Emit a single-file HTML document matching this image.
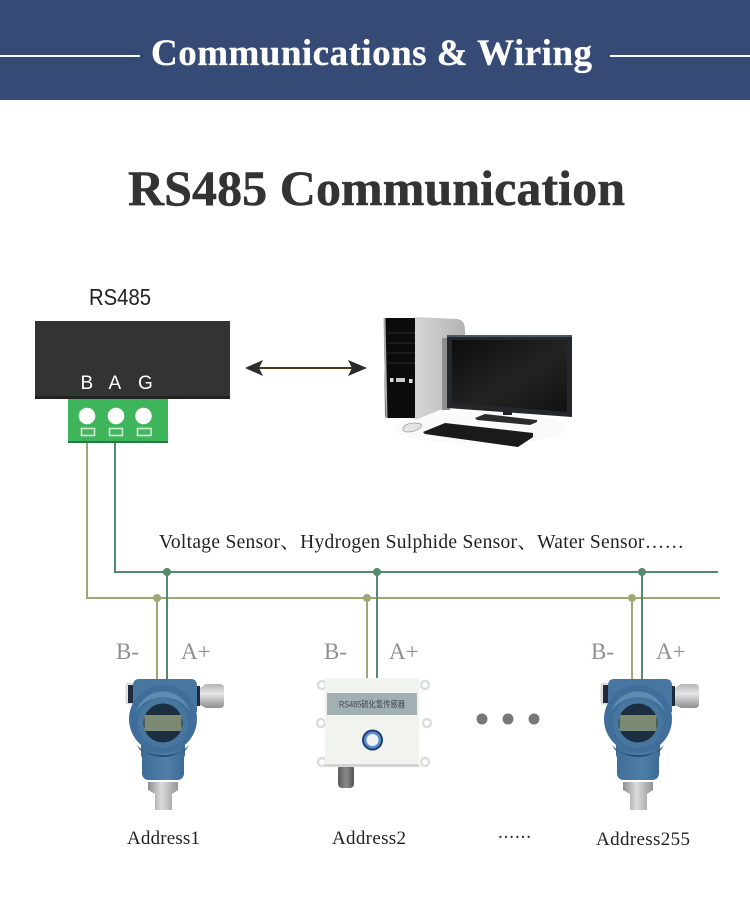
<!DOCTYPE html>
<html><head><meta charset="utf-8"><style>
html,body{margin:0;padding:0;background:#fff}
svg{display:block}
.s{font-family:"Liberation Serif","Noto Serif CJK SC",serif}
.n{font-family:"Liberation Sans",sans-serif}
</style></head><body>
<svg width="750" height="910" viewBox="0 0 750 910" xmlns="http://www.w3.org/2000/svg">
<defs>
<linearGradient id="steel" x1="0" x2="1" y1="0" y2="0"><stop offset="0" stop-color="#8f8f8f"/><stop offset=".45" stop-color="#dcdcdc"/><stop offset="1" stop-color="#949494"/></linearGradient>
<linearGradient id="steelV" x1="0" x2="0" y1="0" y2="1"><stop offset="0" stop-color="#b5b5b5"/><stop offset=".4" stop-color="#e6e6e6"/><stop offset="1" stop-color="#8f8f8f"/></linearGradient>
<linearGradient id="blue" x1="0" x2="1" y1="0" y2="0"><stop offset="0" stop-color="#3e6c95"/><stop offset=".6" stop-color="#4f7fa9"/><stop offset="1" stop-color="#3c6a94"/></linearGradient>
<linearGradient id="tower" x1="0" x2="1" y1="0" y2="0"><stop offset="0" stop-color="#d6d6d6"/><stop offset="1" stop-color="#b4b4b4"/></linearGradient>
<linearGradient id="screen" x1="0" x2="1" y1="0" y2="1"><stop offset="0" stop-color="#0d0d0d"/><stop offset=".55" stop-color="#232323"/><stop offset="1" stop-color="#111"/></linearGradient>
<linearGradient id="probe" x1="0" x2="1" y1="0" y2="0"><stop offset="0" stop-color="#5a5a5a"/><stop offset=".5" stop-color="#8a8a8a"/><stop offset="1" stop-color="#555"/></linearGradient>
<g id="tx">
<rect x="126" y="683" width="8" height="21" rx="3" fill="#e4e4e4" stroke="#bbb" stroke-width=".6"/>
<rect x="128" y="685" width="5" height="18" fill="#1d2b3a"/>
<rect x="196" y="686" width="4" height="20" fill="#1d2b3a"/>
<path d="M200 688 L206 684 H220 Q224 684 224 688 V704 Q224 708 220 708 H206 L200 705Z" fill="url(#steelV)"/>
<path d="M139 679 H191 Q197 679 197 686 V712 H133 V686 Q133 679 139 679Z" fill="#47779f"/>
<path d="M141 740 H185 V755 L184 758 V774 Q183 780 177 780 H149 Q143 780 142 774 V758 L141 755Z" fill="url(#blue)"/>
<circle cx="163" cy="719" r="34" fill="#3e6e99"/>
<path d="M136 712 A28 28 0 0 1 190 712 A30 26 0 0 0 136 712Z" fill="#5f8ab2"/>
<path d="M137 745 A34 34 0 0 0 189 745 L186 750 Q163 760 140 750Z" fill="#2c4f72"/>
<circle cx="163" cy="723" r="25" fill="#47779f"/>
<circle cx="163" cy="723" r="19.5" fill="#1c2e42"/>
<rect x="144.500" y="715" width="37" height="16" rx="1" fill="#7d8a72"/>
<path d="M148 782 H178 V790 L172 794 V810 H155 V794 L148 790Z" fill="url(#steel)"/>
</g>
</defs>

<rect width="750" height="100" fill="#354a74"/>
<rect x="0" y="55" width="140" height="2" fill="#fff"/>
<rect x="610" y="55" width="140" height="2" fill="#fff"/>
<text class="s" x="151" y="65" font-size="37" font-weight="700" fill="#fff" stroke="#fff" stroke-width=".3" textLength="441" lengthAdjust="spacing">Communications &amp; Wiring</text>
<text class="s" x="128" y="205" font-size="50" font-weight="700" fill="#333" stroke="#333" stroke-width=".5" textLength="497" lengthAdjust="spacing">RS485 Communication</text>

<text class="n" x="89" y="305" font-size="23" fill="#222" textLength="62" lengthAdjust="spacingAndGlyphs">RS485</text>
<rect x="35" y="321" width="195" height="78" fill="#333"/>
<rect x="35" y="396" width="195" height="3" fill="#222"/>
<text class="n" x="80.500" y="389" font-size="19" fill="#fff">B</text>
<text class="n" x="108.500" y="389" font-size="19" fill="#fff">A</text>
<text class="n" x="138" y="389" font-size="19" fill="#fff">G</text>
<rect x="68" y="399" width="100" height="44" fill="#3fb55b"/>
<rect x="68" y="441" width="100" height="2" fill="#2a7a40"/>
<circle cx="87" cy="416" r="8.300" fill="#fff"/><circle cx="116" cy="416" r="8.300" fill="#fff"/><circle cx="143.500" cy="416" r="8.300" fill="#fff"/>
<g fill="#44b560" stroke="#cdeAd3" stroke-width="1.600">
<rect x="81.500" y="428.500" width="13" height="7"/><rect x="109.500" y="428.500" width="13" height="7"/><rect x="137.500" y="428.500" width="13.500" height="7"/>
</g>

<rect x="256" y="367" width="100" height="2" fill="#4a3a14"/>
<path d="M245 368 L263 360 L259 368 L263 376Z M367 368 L348 360 L352 368 L348 376Z" fill="#2c2c2c"/>

<!-- computer -->
<ellipse cx="480" cy="428" rx="88" ry="16" fill="#fafafa"/>
<path d="M415 317 L457 319 Q465 320 465 330 V400 L415 420Z" fill="url(#tower)"/>
<path d="M384 318 H415 V418 L387 418 Q385 418 385 415Z" fill="#0b0b0b"/>
<path d="M383.500 318 H385.500 L387.500 418 H385.500Z" fill="#aaa"/>
<g stroke="#333" stroke-width=".8"><line x1="387" y1="333" x2="415" y2="333"/><line x1="387" y1="343" x2="415" y2="343"/><line x1="387" y1="353" x2="415" y2="353"/><line x1="387" y1="363" x2="415" y2="363"/></g>
<rect x="390" y="378" width="3.500" height="4" fill="#ddd"/><rect x="396" y="378" width="9" height="4" fill="#ccc"/><rect x="409" y="379" width="3.500" height="4" fill="#ddd"/>
<rect x="442" y="338" width="8" height="72" fill="#8e8e8e"/>
<path d="M447 335 H572 V417 L447 408Z" fill="#24282c"/>
<path d="M447 335 H572 V337 H447Z" fill="#4c5c66"/>
<path d="M452 340 H567 V412 L452 403Z" fill="url(#screen)"/>
<rect x="503" y="411" width="9" height="4" fill="#222"/>
<path d="M475 418 L485 414 L537 420 V422 L530 425 L477 420Z" fill="#2c2c2c"/>
<path d="M403 428 Q406 423 415 423 Q423 423 421 427 Q416 432 408 432 Q402 432 403 428Z" fill="#e4e4e4" stroke="#999" stroke-width=".8"/>
<path d="M423 432 L445 423 L533 433 V437 L518 447 L425 434Z" fill="#1a1a1a"/>

<!-- wires -->
<path d="M87 443 V598 H720" fill="none" stroke="#a0a674" stroke-width="2"/>
<path d="M157 598 V681 M367 598 V681 M632 598 V681" fill="none" stroke="#a0a674" stroke-width="2"/>
<path d="M115 443 V572 H718" fill="none" stroke="#548a6e" stroke-width="2"/>
<path d="M167 572 V681 M377 572 V681 M642 572 V681" fill="none" stroke="#548a6e" stroke-width="2"/>
<g fill="#a0a674"><circle cx="157" cy="598" r="4"/><circle cx="367" cy="598" r="4"/><circle cx="632" cy="598" r="4"/></g>
<g fill="#548a6e"><circle cx="167" cy="572" r="4"/><circle cx="377" cy="572" r="4"/><circle cx="642" cy="572" r="4"/></g>

<text class="s" x="159" y="548" font-size="19.500" fill="#222" textLength="525" lengthAdjust="spacing">Voltage Sensor、Hydrogen Sulphide Sensor、Water Sensor……</text>

<g class="s" font-size="23" fill="#8f8f8f">
<text x="116" y="659">B-</text><text x="181" y="659">A+</text>
<text x="324" y="659">B-</text><text x="389" y="659">A+</text>
<text x="591" y="659">B-</text><text x="656" y="659">A+</text>
</g>

<use href="#tx"/>
<use href="#tx" x="475"/>

<!-- sensor box -->
<g fill="#fff" stroke="#dcdedb" stroke-width="2.500">
<circle cx="322" cy="685" r="4"/><circle cx="425" cy="685" r="4"/>
<circle cx="321" cy="723" r="4"/><circle cx="427" cy="723" r="4"/>
<circle cx="322" cy="762" r="4"/><circle cx="425" cy="762" r="4"/>
</g>
<rect x="338" y="765" width="16" height="23" rx="4" fill="url(#probe)"/>
<rect x="325" y="678" width="94" height="89" rx="3" fill="#f1f3ef"/>
<rect x="325" y="764" width="94" height="3" fill="#d2d5d0"/>
<rect x="327" y="693" width="90" height="22" fill="#a3b0b3"/>
<text x="339" y="707.500" font-family="Liberation Sans,Noto Sans CJK SC,sans-serif" font-size="9" fill="#3f474a" textLength="66" lengthAdjust="spacingAndGlyphs">RS485硫化氢传感器</text>
<circle cx="372.500" cy="740" r="10.500" fill="#1f3e70"/>
<circle cx="372.500" cy="740" r="8.500" fill="#5a8fd0"/>
<circle cx="372.500" cy="740" r="6" fill="#eef2f6"/>

<g fill="#777"><circle cx="482" cy="719" r="5.500"/><circle cx="508" cy="719" r="5.500"/><circle cx="534" cy="719" r="5.500"/></g>

<g class="s" font-size="19" fill="#222">
<text x="127" y="844" textLength="73" lengthAdjust="spacing">Address1</text>
<text x="332" y="844" textLength="74" lengthAdjust="spacing">Address2</text>
<text x="498" y="838" textLength="33" lengthAdjust="spacing">......</text>
<text x="596" y="845" textLength="94" lengthAdjust="spacing">Address255</text>
</g>
</svg>
</body></html>
